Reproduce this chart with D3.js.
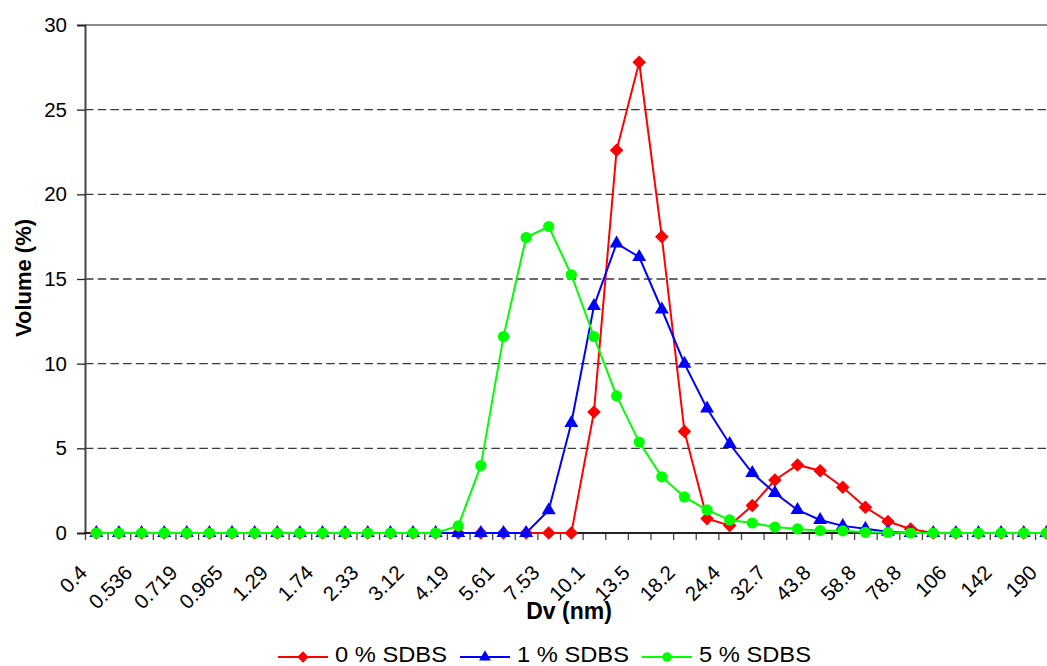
<!DOCTYPE html>
<html>
<head>
<meta charset="utf-8">
<script src="https://cdn.jsdelivr.net/npm/d3@7"></script>
<style>
  html, body { margin: 0; padding: 0; background: #fff; }
  svg { display: block; font-family: "Liberation Sans", Arial, sans-serif; }
</style>
</head>
<body>
<svg id="chart" width="1047" height="666"></svg>
<script>
// Particle size categories (nm)
const categories = ["0.4","0.463","0.536","0.621","0.719","0.833","0.965","1.12","1.29","1.50",
  "1.74","2.01","2.33","2.70","3.12","3.62","4.19","4.85","5.61","6.50","7.53","8.72","10.1",
  "11.7","13.5","15.7","18.2","21.0","24.4","28.2","32.7","37.8","43.8","50.7","58.8","68.1",
  "78.8","91.3","106","122","142","164","190"];

// Labels shown on the axis (every other category)
const tickLabels = ["0.4","0.536","0.719","0.965","1.29","1.74","2.33","3.12","4.19","5.61",
  "7.53","10.1","13.5","18.2","24.4","32.7","43.8","58.8","78.8","106","142","190"];

const seriesNames = ["0 % SDBS", "1 % SDBS", "5 % SDBS"];

const sdbs0 = [0,0,0,0,0,0,0,0,0,0, 0,0,0,0,0,0,0,0,0,0, 0,0,7.15,22.6,27.8,17.5,6.0,0.85,0.45,1.62,
  3.13,4.02,3.68,2.70,1.52,0.68,0.24,0,0,0, 0,0,0];
const sdbs1 = [0,0,0,0,0,0,0,0,0,0, 0,0,0,0,0,0,0,0,0,0, 1.35,6.5,13.4,17.1,16.3,13.2,10.0,7.35,5.26,3.54,
  2.36,1.36,0.77,0.42,0.25,0.08,0,0,0,0, 0,0,0];
const sdbs5 = [0,0,0,0,0,0,0,0,0,0, 0,0,0,0,0,0,0.42,3.98,11.6,17.45, 18.1,15.25,11.6,8.1,5.37,3.32,2.13,1.36,0.77,0.59,
  0.35,0.24,0.14,0.13,0.04,0.03,0,0,0,0, 0,0,0];

const yTicks = [0, 5, 10, 15, 20, 25, 30];

const svg = d3.select("#chart");
const plotLeft = 85, plotTop = 25, plotBottom = 533, step = 22.62;
const plotRight = plotLeft + categories.length * step;

const x = d3.scaleBand().domain(d3.range(categories.length)).range([plotLeft, plotRight]).paddingInner(0).paddingOuter(0);
const xB = d3.scaleLinear().domain([0, categories.length]).range([plotLeft, plotRight]);
const y = d3.scaleLinear().domain([0, 30]).range([plotBottom, plotTop]);
const cx = i => x(i) + x.bandwidth() / 2;

// Gridlines
svg.append("g").selectAll("line").data(yTicks.filter(t => t > 0 && t < 30)).join("line")
  .attr("x1", plotLeft).attr("x2", 1047).attr("y1", d => y(d)).attr("y2", d => y(d))
  .attr("stroke", "#3a3a3a").attr("stroke-width", 1.3).attr("stroke-dasharray", "8.5,4.2");
svg.append("line").attr("x1", plotLeft).attr("x2", 1047).attr("y1", y(30)).attr("y2", y(30))
  .attr("stroke", "#8c8c8c").attr("stroke-width", 2);

// Y axis
const yAxis = svg.append("g").attr("transform", `translate(${plotLeft},0)`)
  .call(d3.axisLeft(y).tickValues(yTicks).tickSize(8).tickPadding(10));
yAxis.select(".domain").attr("stroke", "#444").attr("stroke-width", 2);
yAxis.selectAll(".tick line").attr("stroke", "#222").attr("stroke-width", 1.3);
yAxis.selectAll(".tick text").attr("font-size", 20.5).attr("fill", "#000")
  .attr("font-family", "'Liberation Sans', Arial, sans-serif");

// X axis: boundary ticks
const xTickAxis = svg.append("g").attr("transform", `translate(0,${plotBottom})`)
  .call(d3.axisBottom(xB).tickValues(d3.range(categories.length + 1)).tickSize(7).tickFormat(""));
xTickAxis.select(".domain").remove();
xTickAxis.selectAll(".tick line").attr("stroke", "#444").attr("stroke-width", 1.3);
svg.append("line").attr("x1", plotLeft - 1).attr("x2", 1047).attr("y1", plotBottom).attr("y2", plotBottom)
  .attr("stroke", "#222").attr("stroke-width", 2);

// X axis: labels
const labelIdx = d3.range(0, categories.length, 2);
const xLab = svg.append("g").attr("transform", `translate(0,${plotBottom})`)
  .call(d3.axisBottom(x).tickValues(labelIdx).tickSize(0)
    .tickFormat((d, i) => tickLabels[i]));
xLab.select(".domain").remove();
xLab.selectAll(".tick text")
  .attr("font-size", 20.5).attr("fill", "#000")
  .attr("font-family", "'Liberation Sans', Arial, sans-serif")
  .attr("text-anchor", "end").attr("x", 0).attr("y", 0).attr("dy", 0)
  .attr("transform", "translate(-8,41) rotate(-45)");

// Axis titles
svg.append("text").attr("x", 569).attr("y", 619).attr("text-anchor", "middle")
  .attr("font-size", 23).attr("font-weight", "bold").text("Dv (nm)");
svg.append("text").attr("transform", "translate(31,278) rotate(-90)").attr("text-anchor", "middle")
  .attr("font-size", 22).attr("font-weight", "bold").text("Volume (%)");

// Markers
const markerPath = {
  diamond: "M0,-6.8L6.8,0L0,6.8L-6.8,0Z",
  triangle: "M0,-8L7,4L-7,4Z",
  circle: d3.symbol(d3.symbolCircle, Math.PI * 5.6 * 5.6)()
};
const series = [
  { name: seriesNames[0], values: sdbs0, color: "#ff0000", marker: "diamond" },
  { name: seriesNames[1], values: sdbs1, color: "#0000ff", marker: "triangle" },
  { name: seriesNames[2], values: sdbs5, color: "#00ff00", marker: "circle" }
];

const line = d3.line().x((d, i) => cx(i)).y(d => y(d));
series.forEach(s => {
  const g = svg.append("g");
  g.append("path").attr("d", line(s.values)).attr("fill", "none")
    .attr("stroke", s.color).attr("stroke-width", 2);
  g.selectAll("path.m").data(s.values).join("path").attr("class", "m")
    .attr("d", markerPath[s.marker])
    .attr("transform", (d, i) => `translate(${cx(i)},${y(d)})`)
    .attr("fill", s.color);
});

// Legend
const legendX = [278, 460, 642];
const leg = svg.append("g");
series.forEach((s, k) => {
  const g = leg.append("g").attr("transform", `translate(${legendX[k]},657)`);
  g.append("line").attr("x1", 0).attr("x2", 50).attr("stroke", s.color).attr("stroke-width", 2);
  g.append("path").attr("d", markerPath[s.marker]).attr("transform", "translate(25,0) scale(0.85)").attr("fill", s.color);
  g.append("text").attr("x", 57).attr("y", 5).attr("font-size", 22).attr("fill", "#000")
    .attr("textLength", 112).attr("lengthAdjust", "spacingAndGlyphs").text(s.name);
});
</script>
</body>
</html>
